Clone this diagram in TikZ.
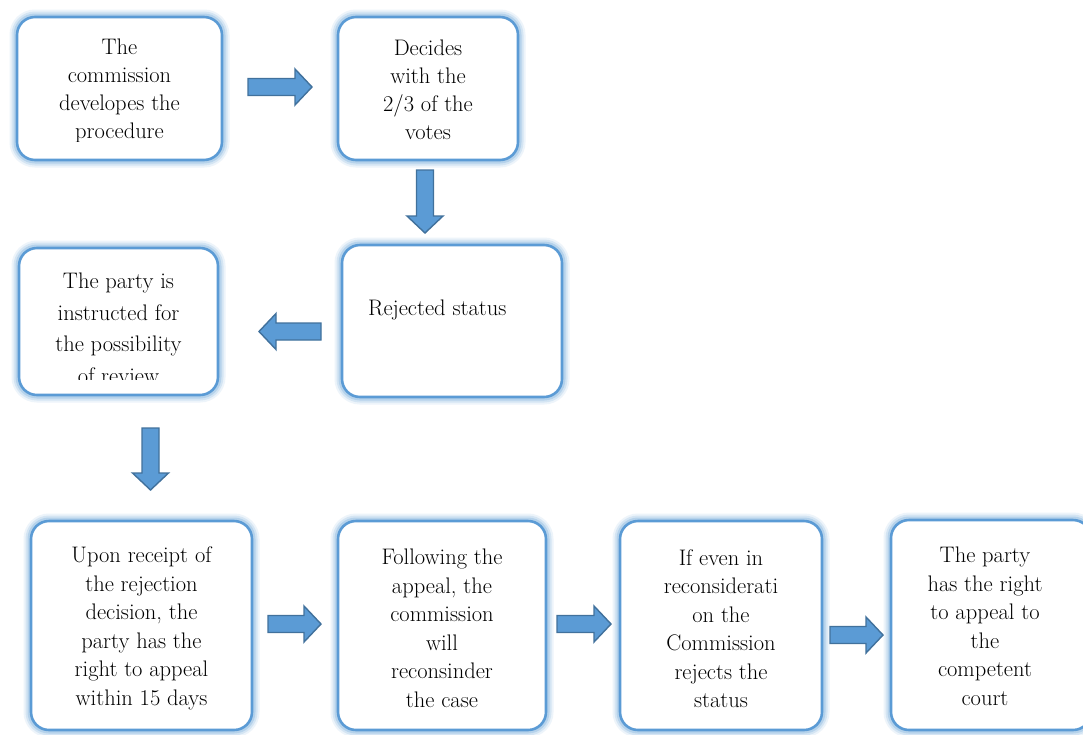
\documentclass[tikz,border=0pt]{standalone}
\usepackage{fontspec}
\setmainfont{Latin Modern Roman}
\usetikzlibrary{calc}

\definecolor{edgeblue}{HTML}{5B9BD5}
\definecolor{glowblue}{HTML}{9DC3E6}
\definecolor{arrowfill}{HTML}{5B9BD5}
\definecolor{arrowedge}{HTML}{41719C}

\tikzset{
  x=1pt, y=-1pt,
  box/.style={rectangle, rounded corners=18pt, fill=white,
    draw=edgeblue, line width=2.6pt, inner sep=0pt,
    preaction={draw=glowblue, line width=15pt, draw opacity=0.18},
    preaction={draw=glowblue, line width=11pt, draw opacity=0.30},
    preaction={draw=glowblue, line width=7pt, draw opacity=0.55}},
  txt/.style={align=center, inner sep=0pt,
    font=\fontsize{22.5}{#1}\selectfont},
  txt/.default=28.5,
  arrowbody/.style={fill=arrowfill, draw=arrowedge, line width=1.4pt,
    line join=miter},
  pics/blockarrow/.style={code={
    \draw[arrowbody] ({-#1/2},-8.5) -- ({#1/2-17},-8.5) -- ({#1/2-17},-18)
      -- ({#1/2},0) -- ({#1/2-17},18) -- ({#1/2-17},8.5) -- ({-#1/2},8.5)
      -- cycle;}}
}

\begin{document}
\begin{tikzpicture}
\useasboundingbox[fill=white] (0,0) rectangle (1083,734);

% boxes
\node[box, minimum width=205pt, minimum height=143pt] (a) at (119.5,88.5) {};
\node[box, minimum width=180pt, minimum height=143pt] (b) at (428,88.5) {};
\node[box, minimum width=220pt, minimum height=152pt] (c) at (452,321) {};
\node[box, minimum width=199pt, minimum height=147pt] (d) at (118.5,321.5) {};
\node[box, minimum width=221pt, minimum height=209pt] (e) at (141.5,625.5) {};
\node[box, minimum width=208pt, minimum height=209pt] (f) at (442,625.5) {};
\node[box, minimum width=202pt, minimum height=209pt] (g) at (721,625.5) {};
\node[box, minimum width=200pt, minimum height=210pt] (h) at (991,625) {};

% box texts (the first and fourth text frames are cut off at the bottom)
\begin{scope}
  \clip (20,20) rectangle (220,141);
  \node[txt=28] (a-t) at (119.5,91) {The\\commission\\developes the\\procedure};
\end{scope}
\node[txt=28] (b-t) at (428,89.5) {Decides\\with the\\2/3 of the\\votes};
\node[txt, anchor=west] (c-t) at (368,310) {Rejected status};
\begin{scope}
  \clip (20,250) rectangle (216,379);
  \node[txt=31.5] (d-t) at (118.5,328.5) {The party is\\instructed for\\the possibility\\of review};
\end{scope}
\node[txt] (e-t) at (141.5,628.5) {Upon receipt of\\the rejection\\decision, the\\party has the\\right to appeal\\within 15 days};
\node[txt] (f-t) at (442,628.5) {Following the\\appeal, the\\commission\\will\\reconsinder\\the case};
\node[txt] (g-t) at (721,628.5) {If even in\\reconsiderati\\on the\\Commission\\rejects the\\status};
\node[txt] (h-t) at (985,626.5) {The party\\has the right\\to appeal to\\the\\competent\\court};

% block arrows between the steps
\pic (ab) at (280,87) {blockarrow=64};
\pic[rotate=-90] (bc) at (425,201.5) {blockarrow=63};
\pic[rotate=180] (cd) at (290,331.5) {blockarrow=62};
\pic[rotate=-90] (de) at (150.5,459) {blockarrow=62};
\pic (ef) at (294.5,624) {blockarrow=53};
\pic (fg) at (584,624) {blockarrow=54};
\pic (gh) at (856.5,635) {blockarrow=53};
\end{tikzpicture}
\end{document}
